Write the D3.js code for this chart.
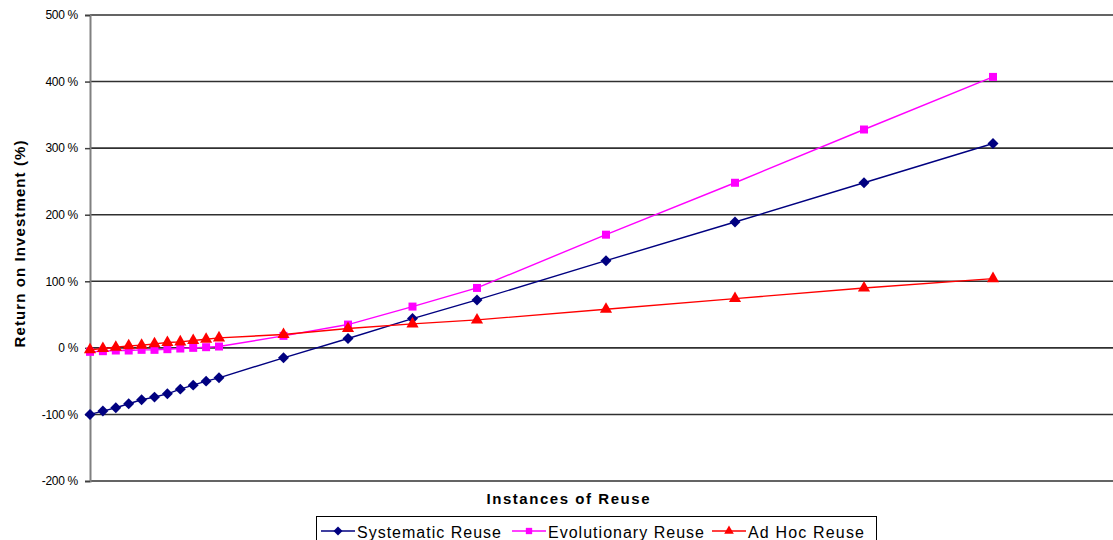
<!DOCTYPE html>
<html>
<head>
<meta charset="utf-8">
<script src="https://cdn.jsdelivr.net/npm/d3@7"></script>
<style>
  html, body { margin: 0; padding: 0; background: #fff; overflow: hidden; }
  svg { display: block; font-family: "Liberation Sans", Arial, sans-serif; }
</style>
</head>
<body>
<svg id="chart" width="1113" height="540"></svg>
<script>
// ---- data ----
const instances = [0, 1, 2, 3, 4, 5, 6, 7, 8, 9, 10, 15, 20, 25, 30, 40, 50, 60, 70];
const systematic = [-100, -95, -90, -84, -78, -74, -69, -62, -56, -50, -45, -15, 14, 44, 72, 131, 189, 248, 307];
const evolutionary = [-6, -5, -4, -4, -3, -3, -2, -1, 0, 1, 2, 18, 35, 62, 90, 170, 248, 328, 407];
const adHoc = [-3, -1, 1, 3, 4, 6, 8, 9, 11, 13, 15, 20, 29, 36, 42, 58, 74, 90, 104];
const yTicks = [-200, -100, 0, 100, 200, 300, 400, 500];
const seriesNames = ["Systematic Reuse", "Evolutionary Reuse", "Ad Hoc Reuse"];
const seriesColors = ["#000080", "#FF00FF", "#FF0000"];
const yTitle = "Return on Investment (%)";
const xTitle = "Instances of Reuse";

// square diamond (square rotated 45deg), as in Excel
const squareDiamond = {
  draw(context, size) {
    const r = Math.sqrt(size / 2);
    context.moveTo(0, -r); context.lineTo(r, 0); context.lineTo(0, r); context.lineTo(-r, 0); context.closePath();
  }
};
const seriesSymbols = [squareDiamond, d3.symbolSquare, d3.symbolTriangle];

const series = [systematic, evolutionary, adHoc].map((vals, i) => ({
  name: seriesNames[i], color: seriesColors[i], symbol: seriesSymbols[i],
  points: instances.map((x, j) => ({ x, y: vals[j] }))
}));

// ---- layout ----
const svg = d3.select("#chart");
const plotLeft = 90, plotTop = 15, plotBottom = 481;
const x = d3.scaleLinear().domain([0, 80]).range([plotLeft, plotLeft + 80 * 12.9]);
const y = d3.scaleLinear().domain([-200, 500]).range([plotBottom, plotTop]);

// gridlines
svg.append("g").selectAll("line").data(yTicks).join("line")
  .attr("x1", plotLeft).attr("x2", 1113)
  .attr("y1", d => y(d)).attr("y2", d => y(d))
  .attr("stroke", "#303030").attr("stroke-width", 1.6);

// y axis
const yAxis = d3.axisLeft(y).tickValues(yTicks).tickSize(5).tickPadding(8)
  .tickFormat(d => d + " %");
const ya = svg.append("g").attr("transform", `translate(${plotLeft},0)`).call(yAxis);
ya.select(".domain").attr("stroke", "#808080").attr("stroke-width", 2);
ya.selectAll(".tick line").attr("stroke", "#404040").attr("stroke-width", 1.5);
ya.selectAll(".tick text").attr("font-size", 12).attr("fill", "#000")
  .attr("font-family", "'Liberation Sans', Arial, sans-serif").attr("x", -12)
  .attr("letter-spacing", -0.3);

// axis titles
svg.append("text")
  .attr("transform", "translate(25,244) rotate(-90)")
  .attr("text-anchor", "middle").attr("font-weight", "bold").attr("font-size", 15)
  .attr("textLength", 207).attr("lengthAdjust", "spacing")
  .text(yTitle);
svg.append("text")
  .attr("x", 568).attr("y", 504)
  .attr("text-anchor", "middle").attr("font-weight", "bold").attr("font-size", 15)
  .attr("textLength", 163).attr("lengthAdjust", "spacing")
  .text(xTitle);

// series
const line = d3.line().x(d => x(d.x)).y(d => y(d.y));
series.forEach(s => {
  svg.append("path").datum(s.points)
    .attr("d", line).attr("fill", "none")
    .attr("stroke", s.color).attr("stroke-width", 1.4);
  svg.append("g").selectAll("path").data(s.points).join("path")
    .attr("transform", d => `translate(${x(d.x)},${y(d.y)})`)
    .attr("d", d3.symbol().type(s.symbol).size(s.symbol === d3.symbolTriangle ? 64 : (s.symbol === squareDiamond ? 60 : 64)))
    .attr("fill", s.color);
});

// legend
const legend = svg.append("g");
legend.append("rect").attr("x", 316.5).attr("y", 516.5).attr("width", 560).attr("height", 40)
  .attr("fill", "#fff").attr("stroke", "#000").attr("stroke-width", 1);
const legendX = [321, 512, 712];
const legendTextLen = [144, 156, 116];
series.forEach((s, i) => {
  const g = legend.append("g").attr("transform", `translate(${legendX[i]},531)`);
  g.append("line").attr("x1", 0).attr("x2", 34).attr("y1", 0).attr("y2", 0)
    .attr("stroke", s.color).attr("stroke-width", 1.5);
  g.append("path").attr("transform", "translate(17,0)")
    .attr("d", d3.symbol().type(s.symbol).size(40)).attr("fill", s.color);
  g.append("text").attr("x", 36).attr("y", 6.5).attr("font-size", 16)
    .attr("textLength", legendTextLen[i]).attr("lengthAdjust", "spacing")
    .text(s.name);
});
</script>
</body>
</html>
